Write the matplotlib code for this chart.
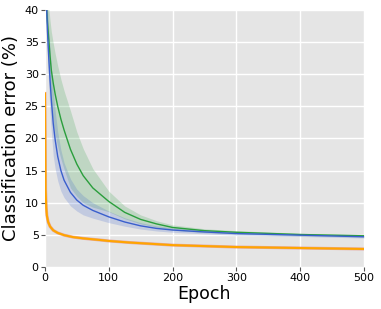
import numpy as np
import matplotlib
matplotlib.use('Agg')
import matplotlib.pyplot as plt

# values
epochs = [0, 2, 4, 6, 8, 10, 13, 16, 20, 25, 30, 40, 50, 60, 75, 100,
          125, 150, 175, 200, 250, 300, 400, 500]

green_mean = [47, 41.2, 38, 35.4, 32.8, 30.6, 28.6, 26.9, 25, 23, 21.3, 18.3,
              16, 14.2, 12.3, 10.2, 8.5, 7.4, 6.7, 6.15, 5.65, 5.4, 5.05, 4.85]
green_std = [3, 4, 4.5, 5, 5.5, 6, 6.2, 6.3, 6.3, 6.2, 6.1, 6, 5, 4.2, 3.0, 1.6,
             1.0, 0.7, 0.5, 0.4, 0.3, 0.25, 0.2, 0.2]

blue_mean = [47, 42, 36.5, 32.5, 29, 26, 22.3, 19.8, 17.2, 15.0, 13.5, 11.6,
             10.4, 9.6, 8.8, 7.8, 7.0, 6.4, 6.0, 5.75, 5.45, 5.2, 4.95, 4.7]
blue_std = [2, 3, 4, 4.5, 5, 5, 5, 4.5, 3.8, 3.2, 2.7, 2.1, 1.7, 1.5, 1.2, 0.9,
            0.65, 0.5, 0.4, 0.35, 0.3, 0.25, 0.2, 0.2]

orange_epochs = [0, 1, 2, 3, 5, 8, 13, 20, 30, 44, 60, 86, 100, 133, 150,
                 200, 250, 300, 400, 500]
orange_mean = [27, 12, 9.2, 8.0, 7.0, 6.3, 5.7, 5.3, 4.95, 4.65, 4.45, 4.2,
               4.05, 3.8, 3.7, 3.4, 3.25, 3.1, 2.95, 2.8]

GREEN = '#2a9e3c'
BLUE = '#3a5fcd'
ORANGE = '#ffa500'
RED = '#e8503a'

fig = plt.figure(figsize=(3.81, 3.09), dpi=100)
ax = fig.add_axes([0.118, 0.136, 0.837, 0.832])
ax.set_facecolor('#e5e5e5')
for s in ax.spines.values():
    s.set_visible(False)
ax.grid(True, color='white', lw=1.0)
ax.set_axisbelow(True)

e = np.array(epochs)
gm, gs = np.array(green_mean), np.array(green_std)
bm, bs = np.array(blue_mean), np.array(blue_std)

ax.fill_between(e, gm - gs, gm + gs, color=GREEN, alpha=0.2, lw=0)
ax.fill_between(e, bm - bs, bm + bs, color=BLUE, alpha=0.2, lw=0)
ax.plot(e, gm, color=GREEN, lw=1.0)
ax.plot(e, bm, color=BLUE, lw=1.0)
ax.plot(orange_epochs, orange_mean, color=RED, lw=2.2, alpha=0.4)
ax.plot(orange_epochs, orange_mean, color=ORANGE, lw=1.5)

ax.set_xlim(0, 500)
ax.set_ylim(0, 40)
ax.set_xticks([0, 100, 200, 300, 400, 500])
ax.set_yticks([0, 5, 10, 15, 20, 25, 30, 35, 40])
ax.tick_params(labelsize=8, colors='black', length=3, width=0.8,
               color='#555555', pad=1.5)
ax.set_xlabel('Epoch', fontsize=12.5, labelpad=1)
ax.set_ylabel('Classification error (%)', fontsize=13, labelpad=3)

fig.savefig('out.png', dpi=100)
